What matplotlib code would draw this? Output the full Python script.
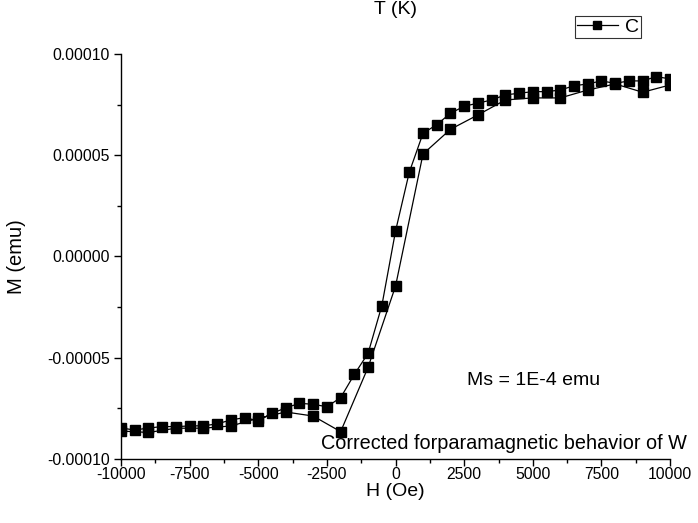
import numpy as np
import matplotlib
matplotlib.use("Agg")
import matplotlib.pyplot as plt
from matplotlib.ticker import MultipleLocator, FormatStrFormatter
from matplotlib.lines import Line2D

plt.rcParams['font.family'] = ['Liberation Sans', 'DejaVu Sans']
plt.rcParams['axes.unicode_minus'] = False

# Descending sweep (field from +10 kOe down to -10 kOe, 500 Oe steps)
H_down = [10000, 9500, 9000, 8500, 8000, 7500, 7000, 6500, 6000, 5500, 5000,
          4500, 4000, 3500, 3000, 2500, 2000, 1500, 1000, 500, 0,
          -500, -1000, -1500, -2000, -2500, -3000, -3500, -4000, -4500, -5000,
          -5500, -6000, -6500, -7000, -7500, -8000, -8500, -9000, -9500, -10000]
M_down = [87.7, 88.8, 86.7, 86.7, 85.5, 86.7, 85.2, 84.3, 82.2, 81.4, 81.4,
          80.6, 79.8, 77.3, 75.7, 74.2, 70.7, 65.1, 60.8, 41.6, 12.6,
          -24.3, -47.8, -58.2, -69.7, -74.2, -73.0, -72.5, -74.8, -77.4, -81.1,
          -79.6, -80.7, -82.7, -83.6, -83.7, -84.0, -84.0, -84.7, -85.7, -84.7]

# Ascending sweep (field from -10 kOe up to +10 kOe, 1000 Oe steps)
H_up = [-10000, -9000, -8000, -7000, -6000, -5000, -4000, -3000, -2000, -1000, 0,
        1000, 2000, 3000, 4000, 5000, 6000, 7000, 8000, 9000, 10000]
M_up = [-86.2, -86.9, -84.8, -84.8, -83.7, -79.9, -76.8, -78.8, -86.5, -54.7, -14.6,
        50.6, 62.8, 69.9, 77.3, 78.3, 78.3, 82.2, 85.2, 81.1, 84.7]

H = np.array(H_down + H_up, dtype=float)
M = np.array(M_down + M_up) * 1e-6

fig = plt.figure(figsize=(6.98, 5.23), dpi=100)
ax = fig.add_axes([0.1734, 0.1224, 0.7866, 0.7744])

ax.plot(H, M, color='black', lw=0.9, marker='s', ms=7.2,
        markerfacecolor='black', markeredgecolor='black')

ax.set_xlim(-10000, 10000)
ax.set_ylim(-0.0001, 0.0001)
ax.xaxis.set_major_locator(MultipleLocator(2500))
ax.xaxis.set_minor_locator(MultipleLocator(1250))
ax.yaxis.set_major_locator(MultipleLocator(0.00005))
ax.yaxis.set_minor_locator(MultipleLocator(0.000025))
ax.yaxis.set_major_formatter(FormatStrFormatter('%.5f'))
ax.xaxis.set_major_formatter(FormatStrFormatter('%d'))

for s in ['top', 'right']:
    ax.spines[s].set_visible(False)
for s in ['left', 'bottom']:
    ax.spines[s].set_linewidth(1.0)
ax.tick_params(which='major', direction='out', length=5, width=1.0, labelsize=11.3)
ax.tick_params(axis='x', which='major', pad=1)
ax.tick_params(axis='y', which='major', pad=3)
ax.tick_params(which='minor', direction='out', length=3, width=1.0)

ax.set_xlabel('H (Oe)', fontsize=14, va='center')
ax.xaxis.set_label_coords(0.5, -0.08)
ax.set_ylabel('M (emu)', fontsize=14.5, va='center')
ax.yaxis.set_label_coords(-0.19, 0.5)

fig.text(396 / 698, 1 - 9 / 523, 'T (K)', fontsize=14, ha='center', va='center')

ax.text(0.631, 0.193, 'Ms = 1E-4 emu', transform=ax.transAxes, fontsize=14,
        ha='left', va='center')
ax.text(1.03, 0.037, 'Corrected forparamagnetic behavior of W', transform=ax.transAxes,
        fontsize=14.3, ha='right', va='center')

handle = Line2D([], [], color='black', lw=0.9, marker='s', ms=6,
                markerfacecolor='black', markeredgecolor='black')
leg = fig.legend([handle], ['C'], loc='upper right', bbox_to_anchor=(641 / 698, 1 - 16 / 523),
                 frameon=True, fancybox=False, edgecolor='black', fontsize=14,
                 handlelength=2.1, handletextpad=0.35, borderpad=0.12, borderaxespad=0)
leg.get_frame().set_linewidth(0.8)

fig.savefig('out.png', dpi=100)
